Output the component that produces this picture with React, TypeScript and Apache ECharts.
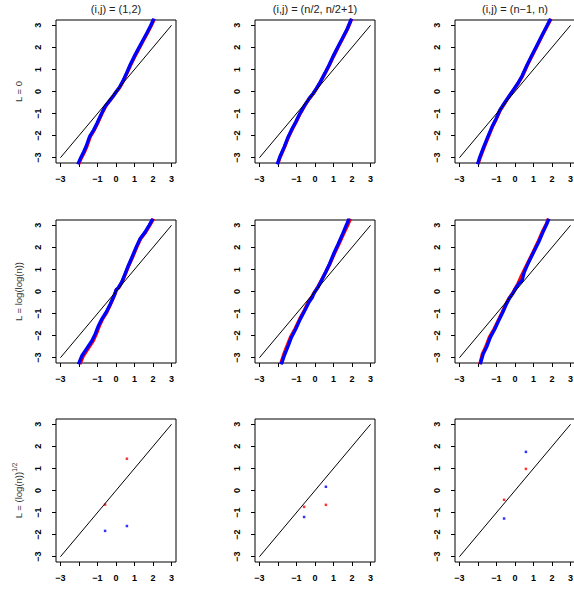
import React, { useEffect, useRef } from "react";
import * as echarts from "echarts";

// ---------- axis / label data ----------
const xTickValues = [-3, -2, -1, 0, 1, 2, 3];
const xLabelValues = [-3, -1, 0, 1, 2, 3];
const yTickValues = [-3, -2, -1, 0, 1, 2, 3];
const colTitles = ["(i,j) = (1,2)", "(i,j) = (n/2, n/2+1)", "(i,j) = (n\u22121, n)"];
const rowLabels = ["L = 0", "L = log(log(n))", "L = (log(n))"];
const rowLabelSup = ["", "", "1/2"];
const refLine = [[-3, -3], [3, 3]];

// ---------- row 1 (L = 0) : [theoretical quantile, sample quantile] ----------
const blue00 = [[-2.06,-3.3],[-1.91,-3.01],[-1.75,-2.74],[-1.61,-2.48],[-1.43,-2.05],[-1.21,-1.75],[-1.03,-1.45],[-0.78,-1.0],[-0.57,-0.66],[-0.32,-0.39],[-0.14,-0.19],[0.01,-0.01],[0.18,0.18],[0.37,0.47],[0.55,0.79],[0.76,1.2],[0.98,1.58],[1.19,1.91],[1.44,2.3],[1.66,2.64],[1.87,2.98],[2.04,3.3]];
const red00 = [[-2.02,-3.3],[-1.87,-3.01],[-1.7,-2.74],[-1.57,-2.48],[-1.39,-2.05],[-1.18,-1.75],[-1.0,-1.45],[-0.76,-1.0],[-0.55,-0.66],[-0.31,-0.39],[-0.13,-0.19],[0.02,-0.01],[0.2,0.18],[0.39,0.47],[0.57,0.79],[0.79,1.2],[1.01,1.58],[1.22,1.91],[1.47,2.3],[1.69,2.64],[1.9,2.98],[2.08,3.3]];
const blue01 = [[-2.04,-3.3],[-1.9,-2.97],[-1.66,-2.51],[-1.45,-2.06],[-1.23,-1.68],[-1.04,-1.38],[-0.82,-1.0],[-0.55,-0.62],[-0.32,-0.32],[-0.1,-0.09],[0.08,0.14],[0.29,0.44],[0.53,0.82],[0.76,1.2],[0.97,1.58],[1.24,2.03],[1.48,2.41],[1.73,2.82],[1.97,3.3]];
const red01 = [[-2.02,-3.3],[-1.88,-2.97],[-1.64,-2.51],[-1.43,-2.06],[-1.21,-1.68],[-1.02,-1.38],[-0.8,-1.0],[-0.54,-0.62],[-0.31,-0.32],[-0.09,-0.09],[0.09,0.14],[0.3,0.44],[0.54,0.82],[0.78,1.2],[0.99,1.58],[1.26,2.03],[1.5,2.41],[1.75,2.82],[1.99,3.3]];
const blue02 = [[-2.02,-3.3],[-1.9,-2.97],[-1.69,-2.51],[-1.47,-2.06],[-1.24,-1.6],[-1.02,-1.23],[-0.82,-0.85],[-0.57,-0.52],[-0.32,-0.21],[-0.07,0.09],[0.15,0.36],[0.38,0.7],[0.65,1.2],[0.92,1.65],[1.19,2.1],[1.46,2.55],[1.72,2.97],[1.92,3.3]];
const red02 = [[-2.0,-3.3],[-1.87,-2.97],[-1.66,-2.51],[-1.44,-2.06],[-1.22,-1.6],[-1.0,-1.23],[-0.8,-0.85],[-0.55,-0.52],[-0.31,-0.21],[-0.06,0.09],[0.16,0.36],[0.4,0.7],[0.67,1.2],[0.94,1.65],[1.21,2.1],[1.48,2.55],[1.74,2.97],[1.95,3.3]];

// ---------- row 2 (L = log(log(n))) ----------
const blue10 = [[-2.03,-3.3],[-1.84,-2.91],[-1.54,-2.53],[-1.3,-2.23],[-1.12,-1.92],[-0.94,-1.54],[-0.76,-1.24],[-0.53,-0.94],[-0.32,-0.59],[-0.14,-0.26],[-0.05,-0.08],[0.01,0.08],[0.13,0.17],[0.31,0.42],[0.49,0.8],[0.67,1.18],[0.85,1.53],[1.09,2.01],[1.3,2.39],[1.57,2.69],[1.79,3.0],[1.99,3.3]];
const red10 = [[-1.95,-3.3],[-1.76,-2.91],[-1.46,-2.53],[-1.23,-2.23],[-1.06,-1.92],[-0.89,-1.54],[-0.72,-1.24],[-0.5,-0.94],[-0.3,-0.59],[-0.13,-0.26],[-0.04,-0.08],[0.02,0.08],[0.14,0.17],[0.32,0.42],[0.51,0.8],[0.69,1.18],[0.88,1.53],[1.12,2.01],[1.33,2.39],[1.6,2.69],[1.82,3.0],[2.03,3.3]];
const blue11 = [[-1.82,-3.3],[-1.66,-2.91],[-1.48,-2.53],[-1.27,-2.07],[-1.04,-1.7],[-0.79,-1.24],[-0.55,-0.86],[-0.32,-0.48],[-0.14,-0.26],[-0.07,-0.11],[0.04,0.05],[0.17,0.2],[0.35,0.5],[0.58,0.88],[0.79,1.26],[1.01,1.71],[1.24,2.13],[1.48,2.59],[1.69,3.0],[1.84,3.3]];
const red11 = [[-1.86,-3.3],[-1.71,-2.91],[-1.54,-2.53],[-1.32,-2.07],[-1.08,-1.7],[-0.82,-1.24],[-0.58,-0.86],[-0.36,-0.48],[-0.18,-0.26],[-0.09,-0.11],[0.04,0.05],[0.15,0.2],[0.34,0.5],[0.58,0.88],[0.81,1.26],[1.04,1.71],[1.28,2.13],[1.53,2.59],[1.76,3.0],[1.92,3.3]];
const blue12 = [[-1.88,-3.3],[-1.72,-2.83],[-1.54,-2.53],[-1.33,-2.07],[-1.09,-1.7],[-0.88,-1.32],[-0.66,-0.94],[-0.46,-0.56],[-0.29,-0.29],[-0.11,-0.08],[0.02,0.12],[0.2,0.35],[0.38,0.5],[0.5,0.88],[0.74,1.33],[1.01,1.79],[1.28,2.24],[1.51,2.69],[1.72,3.07],[1.83,3.3]];
const red12 = [[-1.9,-3.3],[-1.76,-2.83],[-1.59,-2.53],[-1.38,-2.07],[-1.13,-1.7],[-0.91,-1.32],[-0.69,-0.94],[-0.48,-0.56],[-0.31,-0.29],[-0.13,-0.08],[0.0,0.12],[0.16,0.35],[0.3,0.62],[0.45,0.88],[0.71,1.33],[0.98,1.79],[1.24,2.24],[1.47,2.69],[1.7,3.07],[1.8,3.3]];

// ---------- row 3 (L = (log(n))^1/2), n = 2 ----------
const theoQ2 = [-0.589, 0.589];
const blue20Y = [-1.83, -1.61];
const red20Y = [-0.64, 1.44];
const blue21Y = [-1.2, 0.17];
const red21Y = [-0.74, -0.65];
const blue22Y = [-1.27, 1.75];
const red22Y = [-0.42, 0.98];

const pair = (ys: number[]) => theoQ2.map((x, i) => [x, ys[i]]);

const bandPanels = [
  [{ blue: blue00, red: red00 }, { blue: blue01, red: red01 }, { blue: blue02, red: red02 }],
  [{ blue: blue10, red: red10 }, { blue: blue11, red: red11 }, { blue: blue12, red: red12 }],
];
const pointPanels = [
  { blue: pair(blue20Y), red: pair(red20Y) },
  { blue: pair(blue21Y), red: pair(red21Y) },
  { blue: pair(blue22Y), red: pair(red22Y) },
];

// ---------- layout ----------
const colLeft = [56, 255, 455];
const rowTop = [20, 220, 419];
const W = 120;
const H = 143;
const FONT = "Liberation Sans";
const LIM = 3.24;

const fmt = (v: number) => (v < 0 ? "\u2212" + Math.abs(v) : String(v));

function buildOption() {
  const grid: any[] = [];
  const xAxis: any[] = [];
  const yAxis: any[] = [];
  const series: any[] = [];
  const graphic: any[] = [];

  for (let r = 0; r < 3; r++) {
    for (let c = 0; c < 3; c++) {
      const gi = grid.length;
      grid.push({
        left: colLeft[c], top: rowTop[r], width: W, height: H,
        show: true, borderColor: "#000", borderWidth: 1,
        backgroundColor: "transparent", containLabel: false, outerBoundsMode: "none",
      });
      xAxis.push({
        type: "value", gridIndex: gi, min: -LIM, max: LIM, position: "bottom",
        axisLine: { show: false, onZero: false }, splitLine: { show: false },
        axisTick: { show: true, inside: false, length: 4, lineStyle: { color: "#000", width: 1 }, customValues: xTickValues },
        axisLabel: { customValues: xLabelValues, formatter: fmt, fontSize: 9, fontWeight: "bold", color: "#000", fontFamily: FONT, margin: 11 },
      });
      yAxis.push({
        type: "value", gridIndex: gi, min: -LIM, max: LIM, position: "left",
        axisLine: { show: false, onZero: false }, splitLine: { show: false },
        axisTick: { show: true, inside: false, length: 4, lineStyle: { color: "#000", width: 1 }, customValues: yTickValues },
        axisLabel: { customValues: yTickValues, formatter: fmt, rotate: 90, fontSize: 9, fontWeight: "bold", color: "#000", fontFamily: FONT, margin: 14 },
      });
      if (r < 2) {
        const p = bandPanels[r][c];
        series.push({ type: "line", xAxisIndex: gi, yAxisIndex: gi, data: p.red, showSymbol: false, clip: true, lineStyle: { color: "#ff0000", width: 3.4 }, silent: true });
        series.push({ type: "line", xAxisIndex: gi, yAxisIndex: gi, data: p.blue, showSymbol: false, clip: true, lineStyle: { color: "#0000ff", width: 3.4 }, silent: true });
      } else {
        const p = pointPanels[c];
        series.push({ type: "scatter", xAxisIndex: gi, yAxisIndex: gi, data: p.red, symbol: "rect", symbolSize: 2.5, itemStyle: { color: "#ff0000" }, silent: true });
        series.push({ type: "scatter", xAxisIndex: gi, yAxisIndex: gi, data: p.blue, symbol: "rect", symbolSize: 2.5, itemStyle: { color: "#0000ff" }, silent: true });
      }
      series.push({ type: "line", xAxisIndex: gi, yAxisIndex: gi, data: refLine, showSymbol: false, lineStyle: { color: "#000", width: 1 }, silent: true, z: 3 });
    }
  }

  for (let c = 0; c < 3; c++) {
    graphic.push({
      type: "text", x: colLeft[c] + W / 2, y: 9,
      style: { text: colTitles[c], fontSize: 11, fontFamily: FONT, fill: "#222", textAlign: "center", textVerticalAlign: "middle", align: "center", verticalAlign: "middle" },
    });
  }
  for (let r = 0; r < 3; r++) {
    const text = rowLabelSup[r] ? `{a|${rowLabels[r]}}{s|${rowLabelSup[r]}}` : `{a|${rowLabels[r]}}`;
    graphic.push({
      type: "text", x: 17, y: rowTop[r] + H / 2, rotation: Math.PI / 2,
      style: {
        text, fontSize: 9.5, fontFamily: FONT, fill: "#333",
        textAlign: "center", textVerticalAlign: "middle", align: "center", verticalAlign: "middle",
        rich: {
          a: { fontSize: 9.5, fontFamily: FONT, fill: "#333", color: "#333", lineHeight: 12, verticalAlign: "bottom" },
          s: { fontSize: 6.5, fontFamily: FONT, fill: "#333", color: "#333", lineHeight: 12, verticalAlign: "top" },
        },
      },
    });
  }

  return { animation: false, backgroundColor: "#fff", grid, xAxis, yAxis, series, graphic };
}

export default function App() {
  const ref = useRef<HTMLDivElement>(null);
  useEffect(() => {
    if (!ref.current) return;
    const chart = echarts.init(ref.current, undefined, { renderer: "svg" });
    chart.setOption(buildOption() as any);
    return () => chart.dispose();
  }, []);
  return (
    <div
      ref={ref}
      style={{ position: "fixed", left: 0, top: 0, width: 574, height: 592, background: "#fff" }}
    />
  );
}
